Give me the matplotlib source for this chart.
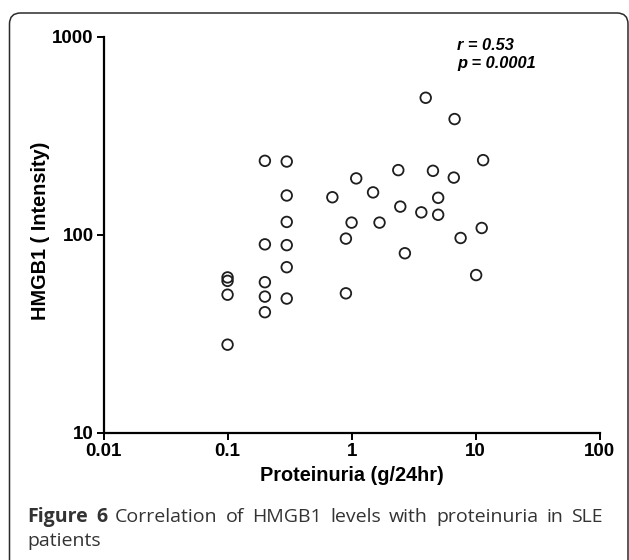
import matplotlib
matplotlib.use('Agg')
import matplotlib.pyplot as plt
from matplotlib.patches import FancyBboxPatch
from matplotlib.ticker import FixedLocator, FixedFormatter, NullLocator

# data
proteinuria = [0.1, 0.1, 0.1, 0.1,
               0.2, 0.2, 0.2, 0.2, 0.2,
               0.3, 0.3, 0.3, 0.3, 0.3, 0.3,
               0.7, 1.09, 1.49, 1.0, 0.9, 0.9, 1.68,
               2.38, 2.47, 2.69, 3.65, 3.96, 4.53, 4.99, 4.99,
               6.67, 6.77, 7.57, 10.1, 11.2, 11.5]
hmgb1 = [61, 58.6, 49.9, 27.9,
         236.7, 89.6, 57.7, 48.8, 40.7,
         234.8, 158.2, 116.3, 88.8, 68.7, 47.7,
         155, 193, 164, 115.4, 95.8, 50.7, 115.4,
         212.5, 139, 80.8, 130, 493, 210.8, 154, 126.4,
         194.8, 384.8, 96.5, 62.7, 108.4, 238.6]

x_ticks = [0.01, 0.1, 1, 10, 100]
x_labels = ['0.01', '0.1', '1', '10', '100']
y_ticks = [10, 100, 1000]
y_labels = ['10', '100', '1000']

stats = ['r = 0.53', 'p = 0.0001']

W, H = 629, 560
fig = plt.figure(figsize=(W / 100, H / 100), dpi=100)
fig.patch.set_facecolor('white')

# rounded frame around the figure panel
frame = FancyBboxPatch((0.095, -0.3), 6.185, 5.77,
                       boxstyle='round,pad=0,rounding_size=0.11',
                       transform=fig.dpi_scale_trans, fill=False,
                       edgecolor='#2b2b2b', linewidth=1.1, clip_on=False)
fig.patches.append(frame)

ax = fig.add_axes([0.1646, 0.227, 0.7887, 0.707])
ax.scatter(proteinuria, hmgb1, s=58, facecolors='none', edgecolors='#1e1e1e',
           linewidths=1.3, zorder=3, clip_on=False)

ax.set_xscale('log')
ax.set_yscale('log')
ax.set_xlim(0.01, 100)
ax.set_ylim(10, 1000)

ax.xaxis.set_major_locator(FixedLocator(x_ticks))
ax.xaxis.set_major_formatter(FixedFormatter(x_labels))
ax.yaxis.set_major_locator(FixedLocator(y_ticks))
ax.yaxis.set_major_formatter(FixedFormatter(y_labels))
ax.xaxis.set_minor_locator(NullLocator())
ax.yaxis.set_minor_locator(NullLocator())

for side in ['top', 'right']:
    ax.spines[side].set_visible(False)
for side in ['left', 'bottom']:
    ax.spines[side].set_linewidth(1.6)

ax.tick_params(direction='out', length=5, width=1.4, pad=2,
               labelsize=13.5)
for lab in ax.get_xticklabels() + ax.get_yticklabels():
    lab.set_fontfamily('Liberation Sans')
    lab.set_fontweight('bold')

ax.set_xlabel('Proteinuria (g/24hr)', fontsize=14.3, fontweight='bold',
              family='Liberation Sans')
ax.set_ylabel('HMGB1 ( Intensity)', fontsize=14.3, fontweight='bold',
              family='Liberation Sans')
ax.xaxis.set_label_coords(0.5, -0.083)
ax.yaxis.set_label_coords(-0.108, 0.51)

fig.text(457 / W, 1 - 38 / H, stats[0], fontsize=11.8, fontweight='bold',
         fontstyle='italic', family='Liberation Sans', va='top', ha='left')
fig.text(457 / W, 1 - 56 / H, stats[1], fontsize=11.8, fontweight='bold',
         fontstyle='italic', family='Liberation Sans', va='top', ha='left')

# caption, first line justified between x=27 and x=603
cap_color = '#333333'
cap_size = 14
line1 = [('Figure', 'bold'), ('6', 'bold'), ('Correlation', 'normal'),
         ('of', 'normal'), ('HMGB1', 'normal'), ('levels', 'normal'),
         ('with', 'normal'), ('proteinuria', 'normal'), ('in', 'normal'),
         ('SLE', 'normal')]
renderer = fig.canvas.get_renderer()
words = []
for w, weight in line1:
    t = fig.text(0, 1 - 522 / H, w, fontsize=cap_size, fontweight=weight,
                 family='Open Sans', color=cap_color, va='baseline', ha='left')
    words.append((t, t.get_window_extent(renderer).width))
x_left, x_right = 27, 603
gap = (x_right - x_left - sum(w for _, w in words)) / (len(words) - 1)
x = x_left
for t, w in words:
    t.set_x(x / W)
    x += w + gap
fig.text(x_left / W, 1 - 546 / H, 'patients', fontsize=cap_size,
         family='Open Sans', color=cap_color, va='baseline', ha='left')

fig.savefig('out.png', dpi=100)
